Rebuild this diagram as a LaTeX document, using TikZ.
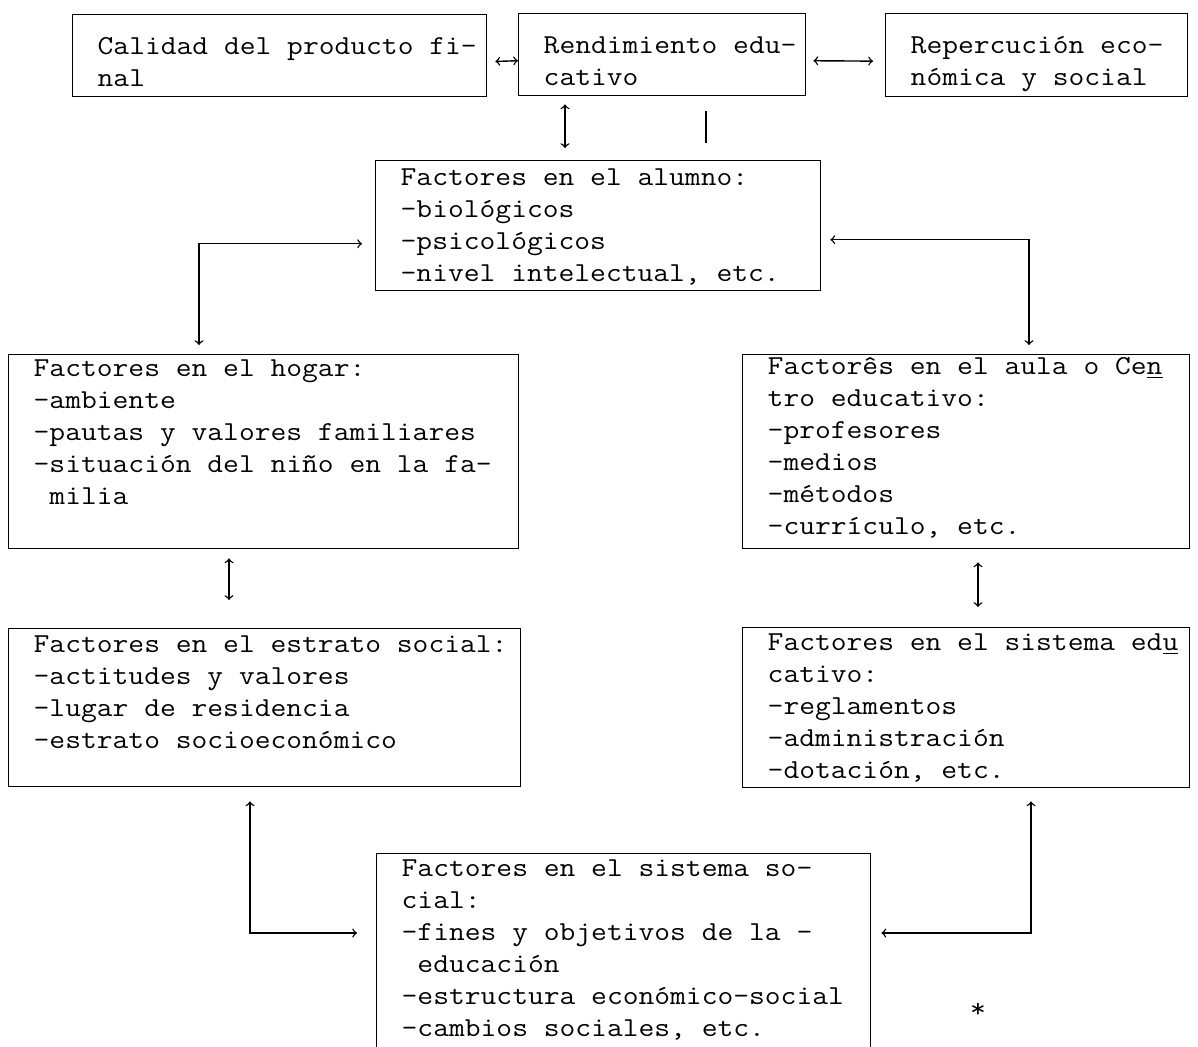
\documentclass[tikz,border=0pt]{standalone}
\usepackage{fontspec}
\newfontfamily\maquina[FakeStretch=1.12]{Latin Modern Mono}
\usepackage{tikz}
\usetikzlibrary{arrows,positioning,calc}
\newcommand{\renglones}[2]{\makebox[#1][l]{\begin{tabular}[t]{@{}l@{}}#2\end{tabular}}}

\begin{document}
\begin{tikzpicture}[x=0.5pt, y=-0.5pt, >=to, line width=0.7pt]
\tikzstyle{caja}=[draw, anchor=north west, inner xsep=12.5pt, inner ysep=0pt, font={\maquina\fontsize{13.69}{16}\selectfont}]
\tikzstyle{chica}=[caja, text height=20pt, text depth=21pt]
\tikzstyle{grande}=[caja, text height=11.5pt]
\clip (0,0) rectangle (1198,1046);
% fila de arriba
\node[chica] (calidad) at (72,14) {\renglones{182pt}{Calidad del producto fi-\\nal}};
\node[chica] (rendimiento) at (518,13) {\renglones{118.5pt}{Rendimiento edu-\\cativo}};
\node[chica, text depth=21.5pt] (repercusion) at (885,13) {\renglones{126pt}{Repercución eco-\\nómica y social}};
% factores
\node[grande, text height=12.5pt, text depth=52.5pt] (alumno) at (375,160)
  {\renglones{197.5pt}{Factores en el alumno:\\-biológicos\\-psicológicos\\-nivel intelectual, etc.}};
\node[grande, text height=11pt, text depth=86pt] (hogar) at (8,354)
  {\renglones{230pt}{Factores en el hogar:\\-ambiente\\-pautas y valores familiares\\-situación del niño en la fa-\\\ milia}};
\node[grande, text height=10pt, text depth=87pt] (aula) at (742,354)
  {\renglones{198.5pt}{Factorês en el aula o Ce\underline{n}\\tro educativo:\\-profesores\\-medios\\-métodos\\-currículo, etc.}};
\node[grande, text height=12pt, text depth=67pt] (estrato) at (8,628)
  {\renglones{231pt}{Factores en el estrato social:\\-actitudes y valores\\-lugar de residencia\\-estrato socioeconómico}};
\node[grande, text depth=68.5pt] (sistemaedu) at (742,627)
  {\renglones{198.5pt}{Factores en el sistema ed\underline{u}\\cativo:\\-reglamentos\\-administración\\-dotación, etc.}};
\node[grande, text depth=88.5pt] (social) at (376,853)
  {\renglones{222pt}{Factores en el sistema so-\\cial:\\-fines y objetivos de la -\\\ educación\\-estructura económico-social\\-cambios sociales, etc.}};
\node[font={\maquina\fontsize{13.69}{16}\selectfont}] (asterisco) at (978,1010) {*};
% flechas
\draw[<->, shorten <=4pt] ([yshift=-3pt]calidad.east) -- ([yshift=-3pt]rendimiento.west);
\draw[<->, shorten <=3.5pt, shorten >=6pt] ([yshift=-3pt]rendimiento.east) -- ([yshift=-3pt]repercusion.west);
\draw[<->, shorten <=4pt, shorten >=6pt] ([xshift=23.5pt]rendimiento.south west) -- ([xshift=95pt]alumno.north west);
\draw[shorten <=7.5pt, shorten >=8.5pt] ([xshift=94pt]rendimiento.south west) -- ([xshift=165.5pt]alumno.north west);
\draw[<->, shorten <=6.5pt, shorten >=4.5pt] ([yshift=-9pt]alumno.west) -| ([xshift=95.5pt]hogar.north west);
\draw[<->, shorten <=4.5pt, shorten >=4.5pt] ([yshift=-7pt]alumno.east) -| ([xshift=143.5pt]aula.north west);
\draw[<->, shorten <=4.5pt, shorten >=14pt] ([xshift=110.5pt]hogar.south west) -- ([xshift=110.5pt]estrato.north west);
\draw[<->, shorten <=6.5pt, shorten >=10pt] ([xshift=118pt]aula.south west) -- ([xshift=118pt]sistemaedu.north west);
\draw[<->, shorten <=7pt, shorten >=9.5pt] ([xshift=121pt]estrato.south west) |- ([yshift=-40pt]social.north west);
\draw[<->, shorten <=6.5pt, shorten >=5pt] ([xshift=144.5pt]sistemaedu.south west) |- ([yshift=-40pt]social.north east);
\end{tikzpicture}
\end{document}
